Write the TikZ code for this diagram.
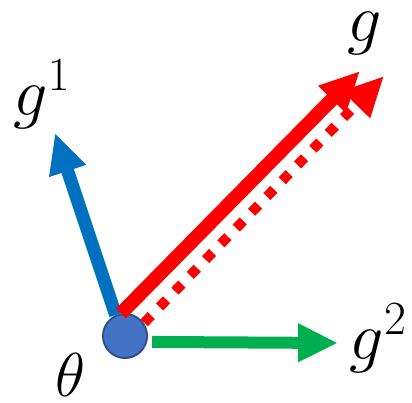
\RequirePackage{fix-cm}
\documentclass[tikz,border=0pt]{standalone}
\usetikzlibrary{arrows.meta}

\definecolor{gblue}{RGB}{0,112,192}
\definecolor{ggreen}{RGB}{0,176,80}
\definecolor{gred}{RGB}{255,0,0}
\definecolor{dotfill}{RGB}{68,114,196}
\definecolor{dotedge}{RGB}{47,82,143}

\tikzset{
  vec/.style={line width=13pt, -{Triangle[length=40pt,width=36pt]}},
  lbl/.style={inner sep=0pt, font=\fontsize{68}{68}\selectfont}
}

\begin{document}
\begin{tikzpicture}[x=1pt,y=-1pt]
 \useasboundingbox (0,0) rectangle (412,402);

 % the point theta
 \node[circle, minimum size=44pt, inner sep=0pt, fill=dotfill, draw=dotedge, line width=2pt] (theta) at (125,336) {};

 \coordinate (tipone) at (55,133);
 \coordinate (tiptwo) at (338,343);
 \coordinate (tipg) at (360,71);
 \coordinate (tipgdot) at (384,76);

 \draw[vec, gblue] (theta.114) -- (tipone);
 \draw[vec, ggreen, line width=12pt] ([xshift=5pt]theta.-15) -- (tiptwo);
 \draw[vec, gred, line width=14pt] (theta.100) -- (tipg);
 \draw[vec, gred, line width=10pt, dash pattern=on 10pt off 12pt] ([shift={(3pt,-3pt)}]theta.45) -- (tipgdot);

 % labels
 \node[lbl] (lg) at (365,33) {$g$};
 \node[lbl] (lgone) at (42,94) {$g^1$};
 \node[lbl] (lgtwo) at (378,338) {$g^2$};
 \node[lbl, font=\fontsize{62}{62}\selectfont] (ltheta) at (70,375) {$\theta$};
\end{tikzpicture}
\end{document}
